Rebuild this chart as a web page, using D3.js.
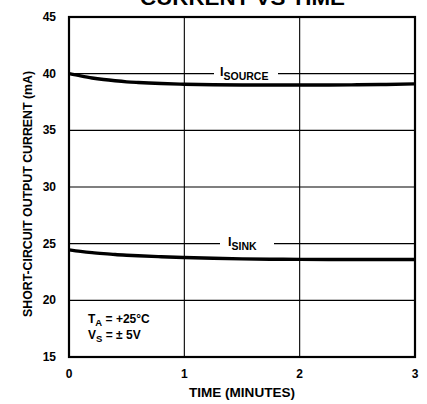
<!DOCTYPE html>
<html>
<head>
<meta charset="utf-8">
<script src="https://cdn.jsdelivr.net/npm/d3@7"></script>
<style>
  html, body { margin: 0; padding: 0; background: #fff; }
  svg { display: block; }
  text { font-family: "Liberation Sans", Arial, Helvetica, sans-serif; font-weight: bold; fill: #000; }
</style>
</head>
<body>
<script>
// ---- data ----
const timeMin = [0, 0.1, 0.2, 0.3, 0.4, 0.5, 0.6, 0.8, 1.0, 1.25, 1.5, 1.75, 2.0, 2.25, 2.5, 2.75, 3.0];
const iSource = [40.0, 39.8, 39.62, 39.48, 39.37, 39.28, 39.22, 39.13, 39.07, 39.02, 39.0, 39.0, 39.0, 39.0, 39.02, 39.05, 39.1];
const iSink   = [24.45, 24.32, 24.21, 24.12, 24.04, 23.98, 23.93, 23.85, 23.78, 23.71, 23.66, 23.63, 23.61, 23.6, 23.6, 23.6, 23.6];
const xTicks = [0, 1, 2, 3];
const yTicks = [15, 20, 25, 30, 35, 40, 45];
const title = "CURRENT VS TIME";
const xTitle = "TIME (MINUTES)";
const yTitle = "SHORT-CIRCUIT OUTPUT CURRENT (mA)";

// ---- layout ----
const W = 427, H = 404;
const L = 69, R = 415, T = 17, B = 357;

const svg = d3.select("body").append("svg").attr("width", W).attr("height", H);
const x = d3.scaleLinear().domain([0, 3]).range([L, R]);
const y = d3.scaleLinear().domain([15, 45]).range([B, T]);

// grid
const grid = svg.append("g").attr("stroke", "#000").attr("stroke-width", 1.1);
grid.selectAll("line.v").data(xTicks.slice(1, -1)).enter().append("line")
  .attr("x1", d => x(d)).attr("x2", d => x(d)).attr("y1", T).attr("y2", B);
grid.selectAll("line.h").data(yTicks.slice(1, -1)).enter().append("line")
  .attr("x1", L).attr("x2", R).attr("y1", d => y(d)).attr("y2", d => y(d));

// frame
svg.append("rect").attr("x", L).attr("y", T).attr("width", R - L).attr("height", B - T)
  .attr("fill", "none").attr("stroke", "#000").attr("stroke-width", 2.2);

// curves
const line = d3.line().x((d, i) => x(timeMin[i])).y(d => y(d)).curve(d3.curveMonotoneX);
[iSource, iSink].forEach(s => {
  svg.append("path").attr("d", line(s)).attr("fill", "none")
    .attr("stroke", "#000").attr("stroke-width", 3.4).attr("stroke-linecap", "butt");
});

// curve labels with gridline gaps
function curveLabel(tx, yVal, gapX0, gapX1, sub) {
  svg.append("rect").attr("x", gapX0).attr("y", y(yVal) - 2).attr("width", gapX1 - gapX0).attr("height", 4).attr("fill", "#fff");
  const t = svg.append("text").attr("x", tx).attr("y", y(yVal) + 2).attr("font-size", 12.5);
  t.append("tspan").text("I");
  t.append("tspan").attr("dy", 4).attr("font-size", 10.5).text(sub);
}
curveLabel(220, 40, 214, 278, "SOURCE");
curveLabel(228, 25, 220, 274, "SINK");

// conditions
const c1 = svg.append("text").attr("x", 88).attr("y", 323).attr("font-size", 12);
c1.append("tspan").text("T");
c1.append("tspan").attr("dy", 2.5).attr("font-size", 9.5).text("A");
c1.append("tspan").attr("dy", -2.5).text(" = +25°C");
const c2 = svg.append("text").attr("x", 88).attr("y", 339).attr("font-size", 12);
c2.append("tspan").text("V");
c2.append("tspan").attr("dy", 2.5).attr("font-size", 9.5).text("S");
c2.append("tspan").attr("dy", -2.5).text(" = ± 5V");

// y tick labels
svg.append("g").selectAll("text").data(yTicks).enter().append("text")
  .attr("x", 56).attr("y", d => y(d) + 4).attr("text-anchor", "end").attr("font-size", 12)
  .text(d => d);

// x tick labels
svg.append("g").selectAll("text").data(xTicks).enter().append("text")
  .attr("x", d => x(d)).attr("y", 378).attr("text-anchor", "middle").attr("font-size", 12)
  .text(d => d);

// axis titles
svg.append("text").attr("x", 242).attr("y", 397).attr("text-anchor", "middle").attr("font-size", 12)
  .attr("textLength", 106).attr("lengthAdjust", "spacingAndGlyphs").text(xTitle);
svg.append("text").attr("transform", `translate(32,194) rotate(-90)`)
  .attr("text-anchor", "middle").attr("font-size", 12)
  .attr("textLength", 246).attr("lengthAdjust", "spacingAndGlyphs").text(yTitle);

// title (mostly cut off at top, as in the reference)
svg.append("text").attr("x", 140).attr("y", 4.5).attr("font-size", 21)
  .attr("textLength", 205).attr("lengthAdjust", "spacingAndGlyphs").text(title);
</script>
</body>
</html>
